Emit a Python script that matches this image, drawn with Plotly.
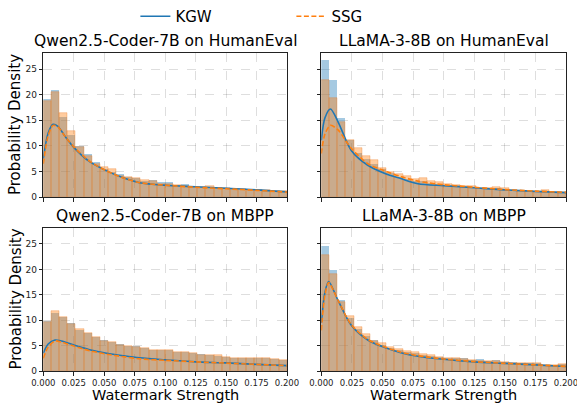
import numpy as np
import plotly.graph_objects as go

# ---------------- data ----------------
n_bins = 30
x_max = 0.2
bin_width = x_max / n_bins
bin_centers = (np.arange(n_bins) + 0.5) * bin_width

panel_titles = ["Qwen2.5-Coder-7B on HumanEval", "LLaMA-3-8B on HumanEval",
                "Qwen2.5-Coder-7B on MBPP", "LLaMA-3-8B on MBPP"]
series_names = ["KGW", "SSG"]
x_tick_vals = [0.0, 0.025, 0.05, 0.075, 0.1, 0.125, 0.15, 0.175, 0.2]
x_tick_text = ["0.000", "0.025", "0.050", "0.075", "0.100", "0.125", "0.150", "0.175", "0.200"]
y_tick_vals = [0, 5, 10, 15, 20, 25]

# histogram densities (30 bins over 0..0.2)
tl_kgw_hist = [19.1, 20.9, 15.6, 12.1, 9.9, 8.5, 6.8, 5.5, 4.9, 4.4, 3.9, 3.7, 3.1, 3.3, 2.9,
               2.9, 2.3, 2.5, 1.9, 1.9, 1.8, 2.0, 1.7, 1.7, 1.4, 1.4, 1.5, 1.3, 1.2, 1.2]
tl_ssg_hist = [18.7, 20.5, 16.4, 12.9, 9.7, 8.1, 6.5, 5.8, 5.4, 4.2, 3.9, 3.7, 3.3, 3.1, 2.6,
               2.5, 2.3, 2.2, 1.9, 1.9, 2.1, 1.8, 1.7, 1.5, 1.6, 1.4, 1.3, 1.3, 1.2, 1.2]
tr_kgw_hist = [26.8, 22.8, 15.4, 11.1, 8.6, 7.5, 6.4, 5.5, 4.7, 4.0, 3.5, 3.1, 3.1, 2.7, 2.5,
               2.3, 2.3, 2.2, 2.0, 1.8, 1.6, 1.7, 1.5, 1.4, 1.4, 1.2, 1.0, 1.2, 1.0, 1.0]
tr_ssg_hist = [22.8, 19.4, 14.7, 11.1, 9.5, 8.0, 7.2, 5.7, 4.8, 4.4, 4.2, 3.5, 3.7, 3.1, 3.0,
               2.6, 2.3, 2.2, 2.2, 1.8, 1.7, 2.0, 1.7, 1.4, 1.2, 1.1, 1.0, 1.4, 1.0, 1.0]
bl_kgw_hist = [9.9, 11.5, 10.6, 9.4, 8.0, 7.5, 6.7, 6.1, 5.8, 5.4, 5.0, 4.9, 4.6, 4.2, 4.2,
               4.1, 3.7, 3.7, 3.5, 3.3, 3.1, 3.0, 2.8, 2.6, 2.6, 2.6, 2.5, 2.5, 2.3, 2.1]
bl_ssg_hist = [9.6, 11.8, 10.6, 9.2, 8.2, 7.5, 6.7, 5.9, 5.7, 5.2, 5.0, 4.8, 4.6, 4.2, 4.2,
               4.1, 3.7, 3.7, 3.5, 3.1, 3.1, 3.1, 2.8, 2.6, 2.6, 2.6, 2.5, 2.5, 2.3, 2.1]
br_kgw_hist = [24.6, 19.9, 13.9, 10.5, 8.2, 6.9, 6.1, 5.2, 4.6, 4.1, 3.7, 3.5, 3.2, 3.0, 2.8,
               2.6, 2.5, 2.5, 2.2, 2.3, 2.0, 2.2, 1.8, 1.8, 1.5, 1.5, 1.5, 1.2, 1.2, 1.3]
br_ssg_hist = [22.9, 19.0, 13.5, 10.8, 8.6, 7.3, 5.9, 5.5, 4.7, 4.4, 3.9, 3.7, 3.4, 3.2, 2.8,
               2.6, 2.5, 2.3, 2.2, 2.0, 2.0, 1.9, 1.8, 1.6, 1.5, 1.5, 1.5, 1.2, 1.2, 1.3]

# KDE curves (read at sample positions)
tl_kde_x = [0, 0.004, 0.008, 0.012, 0.018, 0.025, 0.038, 0.052, 0.066, 0.079, 0.1, 0.125, 0.15, 0.175, 0.2]
tl_kgw_kde = [7.5, 12.5, 14.2, 13.8, 11.8, 9.7, 6.9, 5.1, 3.7, 2.8, 2.3, 2.0, 1.7, 1.4, 1.0]
tl_ssg_kde = [6.5, 12.0, 14.0, 13.7, 11.8, 9.8, 7.0, 5.1, 3.7, 2.8, 2.3, 1.9, 1.6, 1.3, 0.95]

tr_kde_x = [0, 0.003, 0.0075, 0.0137, 0.0245, 0.038, 0.052, 0.065, 0.079, 0.1, 0.125, 0.15, 0.175, 0.2]
tr_kgw_kde = [11.1, 15.5, 17.2, 14.7, 9.1, 6.2, 4.6, 3.6, 2.6, 2.2, 1.8, 1.4, 1.1, 0.85]
tr_ssg_kde = [8.5, 12.3, 14.0, 13.1, 9.5, 6.5, 5.1, 4.0, 3.1, 2.4, 1.9, 1.45, 1.15, 0.9]

bl_kde_x = [0, 0.004, 0.0096, 0.015, 0.025, 0.038, 0.052, 0.066, 0.079, 0.1, 0.125, 0.15, 0.175, 0.2]
bl_kgw_kde = [3.5, 5.3, 6.1, 5.9, 5.1, 4.2, 3.5, 3.0, 2.6, 2.2, 1.8, 1.6, 1.3, 1.05]
bl_ssg_kde = [2.5, 4.7, 5.9, 5.7, 4.9, 4.0, 3.3, 2.8, 2.4, 2.1, 1.8, 1.55, 1.3, 1.05]

br_kde_x = [0, 0.003, 0.006, 0.0137, 0.0245, 0.038, 0.052, 0.065, 0.079, 0.1, 0.125, 0.15, 0.175, 0.2]
br_kgw_kde = [9.5, 15.5, 17.6, 13.9, 9.0, 6.1, 4.6, 3.6, 2.9, 2.3, 1.8, 1.5, 1.2, 0.9]
br_ssg_kde = [8.0, 15.0, 17.4, 13.9, 9.1, 6.2, 4.7, 3.7, 3.0, 2.35, 1.85, 1.5, 1.2, 0.9]

# ---------------- style ----------------
FONT = "DejaVu Sans"
BLUE = "#1f77b4"
ORANGE = "#ff7f0e"
W, H = 577, 405

x_domains = [[43.3 / W, 287.0 / W], [321.3 / W, 566.0 / W]]
y_domains = [[1 - 197.0 / H, 1 - 53.0 / H], [1 - 371.0 / H, 1 - 228.0 / H]]

panels = [
    (tl_kgw_hist, tl_ssg_hist, tl_kde_x, tl_kgw_kde, tl_ssg_kde),
    (tr_kgw_hist, tr_ssg_hist, tr_kde_x, tr_kgw_kde, tr_ssg_kde),
    (bl_kgw_hist, bl_ssg_hist, bl_kde_x, bl_kgw_kde, bl_ssg_kde),
    (br_kgw_hist, br_ssg_hist, br_kde_x, br_kgw_kde, br_ssg_kde),
]

fig = go.Figure()
for i, (kh, sh, kx, kk, sk) in enumerate(panels):
    ax = "" if i == 0 else str(i + 1)
    xa, ya = "x" + ax, "y" + ax
    fig.add_trace(go.Bar(x=bin_centers, y=kh, width=bin_width, xaxis=xa, yaxis=ya,
                         marker=dict(color="rgba(31,119,180,0.4)", line=dict(width=0)),
                         showlegend=False, hoverinfo="skip"))
    fig.add_trace(go.Bar(x=bin_centers, y=sh, width=bin_width, xaxis=xa, yaxis=ya,
                         marker=dict(color="rgba(255,127,14,0.4)",
                                     line=dict(width=0.6, color="rgba(230,115,25,0.5)")),
                         showlegend=False, hoverinfo="skip"))
    fig.add_trace(go.Scatter(x=kx, y=kk, xaxis=xa, yaxis=ya, mode="lines",
                             line=dict(color=BLUE, width=1.6, shape="spline", smoothing=0.8),
                             name=series_names[0], showlegend=(i == 0)))
    fig.add_trace(go.Scatter(x=kx, y=sk, xaxis=xa, yaxis=ya, mode="lines",
                             line=dict(color=ORANGE, width=1.6, dash="5px,2.5px",
                                       shape="spline", smoothing=0.8),
                             name=series_names[1], showlegend=(i == 0)))

layout = dict(
    width=W, height=H, margin=dict(l=0, r=0, t=0, b=0, autoexpand=False),
    paper_bgcolor="white", plot_bgcolor="white",
    barmode="overlay", bargap=0,
    font=dict(family=FONT, color="#000"),
    legend=dict(orientation="h", x=0.505, xanchor="center", y=1.0, yanchor="top",
                font=dict(size=15, family=FONT), entrywidth=111, entrywidthmode="pixels",
                bgcolor="rgba(0,0,0,0)"),
)
annotations = []
for i in range(4):
    r, c = divmod(i, 2)
    ax = "" if i == 0 else str(i + 1)
    layout["xaxis" + ax] = dict(
        domain=x_domains[c], anchor="y" + ax, range=[0, x_max], automargin=False,
        tickvals=x_tick_vals, ticktext=x_tick_text, showticklabels=(r == 1),
        ticklabeloverflow="allow",
        tickfont=dict(size=8.5, color="#222"), ticks="outside", ticklen=3.5,
        tickcolor="#222", showline=True, mirror=True, linecolor="#222", linewidth=1,
        showgrid=True, gridcolor="rgba(0,0,0,0.13)", griddash="dash", gridwidth=0.8,
        zeroline=False)
    layout["yaxis" + ax] = dict(
        domain=y_domains[r], anchor="x" + ax, range=[0, 28.14], automargin=False,
        tickvals=y_tick_vals, showticklabels=(c == 0),
        tickfont=dict(size=9, color="#222"), ticks="outside", ticklen=3.5,
        tickcolor="#222", showline=True, mirror=True, linecolor="#222", linewidth=1,
        showgrid=True, gridcolor="rgba(0,0,0,0.13)", griddash="dash", gridwidth=0.8,
        zeroline=False)
    annotations.append(dict(text=panel_titles[i], xref="paper", yref="paper",
                            x=sum(x_domains[c]) / 2, y=y_domains[r][1],
                            xanchor="center", yanchor="bottom", yshift=1,
                            showarrow=False, font=dict(size=15.5, family=FONT)))
for r in range(2):
    annotations.append(dict(text="Probability Density", xref="paper", yref="paper",
                            x=15 / W, y=sum(y_domains[r]) / 2, textangle=-90,
                            xanchor="center", yanchor="middle", showarrow=False,
                            font=dict(size=15, family=FONT)))
for c in range(2):
    annotations.append(dict(text="Watermark Strength", xref="paper", yref="paper",
                            x=sum(x_domains[c]) / 2, y=0, yanchor="bottom", yshift=0,
                            xanchor="center", showarrow=False,
                            font=dict(size=14.5, family=FONT)))
layout["annotations"] = annotations
fig.update_layout(**layout)
fig.write_html("out.html")
